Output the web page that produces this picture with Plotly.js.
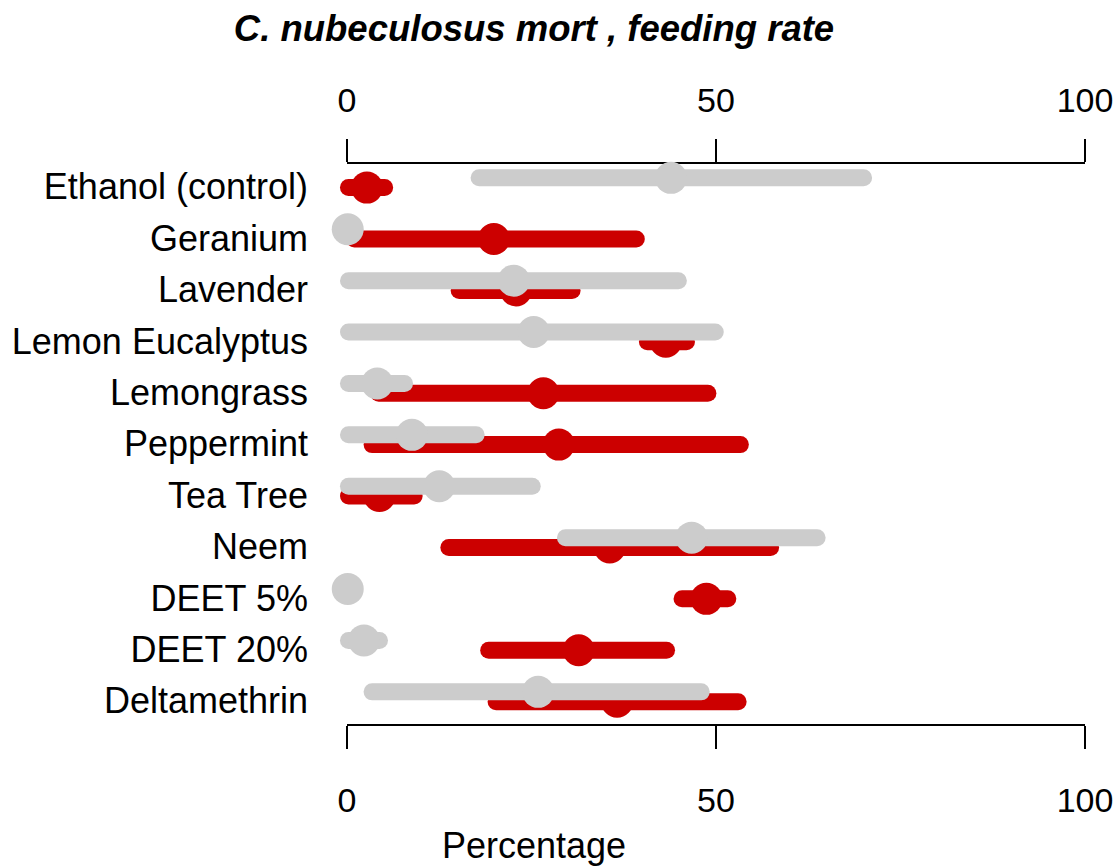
<!DOCTYPE html>
<html>
<head>
<meta charset="utf-8">
<script src="https://cdn.plot.ly/plotly-3.0.1.min.js"></script>
<style>
  html, body { margin: 0; padding: 0; background: #fff; }
  #chart { width: 1120px; height: 868px; }
  .scatterlayer .js-line { stroke-linecap: round !important; }
  .cartesianlayer [clip-path], .cartesianlayer g.plot, .scatterlayer, .scatterlayer * { clip-path: none !important; }
</style>
</head>
<body>
<div id="chart"></div>
<script>
const categories = ["Ethanol (control)", "Geranium", "Lavender", "Lemon Eucalyptus", "Lemongrass",
  "Peppermint", "Tea Tree", "Neem", "DEET 5%", "DEET 20%", "Deltamethrin"];

// Mortality (red): mean, lower, upper
const mortMean = [2.7, 19.9, 22.9, 43.2, 26.6, 28.7, 4.4, 35.6, 48.7, 31.4, 36.6];
const mortLow  = [0.2, 1.0, 15.2, 40.7, 4.3, 3.4, 0.2, 13.8, 45.4, 19.2, 20.2];
const mortHigh = [5.1, 39.2, 30.5, 46.0, 48.9, 53.3, 9.1, 57.4, 51.6, 43.3, 53.0];

// Feeding rate (grey): mean, lower, upper
const feedMean = [43.9, 0.1, 22.6, 25.3, 4.1, 8.8, 12.5, 46.7, 0.1, 2.3, 25.9];
const feedLow  = [17.9, 0.1, 0.2, 0.2, 0.2, 0.2, 0.2, 29.6, 0.1, 0.2, 3.4];
const feedHigh = [70.0, 0.1, 44.9, 49.9, 7.8, 17.5, 25.1, 63.7, 0.1, 4.4, 48.0];

const xTicks = [0, 50, 100];

const RED = "#CC0000", GREY = "#CCCCCC";
const offMort = 0.095, offFeed = -0.095;

function segs(lo, hi, off) {
  const x = [], y = [];
  lo.forEach((v, i) => { x.push(v, hi[i], null); y.push(i + off, i + off, null); });
  return {x, y};
}
const mSeg = segs(mortLow, mortHigh, offMort);
const fSeg = segs(feedLow, feedHigh, offFeed);
const idx = categories.map((c, i) => i);

const traces = [
  {type: "scatter", mode: "lines", x: mSeg.x, y: mSeg.y, line: {color: RED, width: 17},
   hoverinfo: "skip", showlegend: false, name: "mortality", cliponaxis: false},
  {type: "scatter", mode: "markers", x: mortMean, y: idx.map(i => i + offMort), text: categories,
   marker: {color: RED, size: 32, symbol: "circle"}, showlegend: false, name: "mortality", cliponaxis: false},
  {type: "scatter", mode: "lines", x: fSeg.x, y: fSeg.y, line: {color: GREY, width: 17},
   hoverinfo: "skip", showlegend: false, name: "feeding rate", cliponaxis: false},
  {type: "scatter", mode: "markers", x: feedMean, y: idx.map(i => i + offFeed), text: categories,
   marker: {color: GREY, size: 32, symbol: "circle"}, showlegend: false, name: "feeding rate", cliponaxis: false}
];

const FONT = "Liberation Sans, Arial, sans-serif";
const tickFont = {family: FONT, size: 34, color: "#000"};
const labelFont = {family: FONT, size: 36, color: "#000"};

const layout = {
  width: 1120, height: 868,
  margin: {l: 347, r: 35, t: 164, b: 144, pad: 0},
  paper_bgcolor: "#fff", plot_bgcolor: "#fff",
  showlegend: false,
  title: {text: "<b><i>C. nubeculosus mort , feeding rate</i></b>",
          font: {family: FONT, size: 36.5, color: "#000"},
          x: 534 / 1120, xref: "container", xanchor: "center",
          y: 1 - 28 / 868, yref: "container", yanchor: "middle"},
  xaxis: {range: [0, 100], tickvals: xTicks, ticktext: xTicks.map(String),
          showline: true, linecolor: "#000", linewidth: 2, ticks: "outside", ticklen: 23, tickwidth: 2,
          tickcolor: "#000", showgrid: false, zeroline: false, tickfont: tickFont,
          ticklabelstandoff: 22, side: "bottom", layer: "below traces", fixedrange: true},
  xaxis2: {range: [0, 100], tickvals: xTicks, ticktext: xTicks.map(String), overlaying: "x", side: "top",
          showline: true, linecolor: "#000", linewidth: 2, ticks: "outside", ticklen: 23, tickwidth: 2,
          tickcolor: "#000", showgrid: false, zeroline: false, tickfont: tickFont,
          ticklabelstandoff: 13, layer: "below traces", fixedrange: true, anchor: "y"},
  yaxis: {range: [10.53, -0.364], tickvals: idx, ticktext: categories, showline: false, ticks: "",
          showgrid: false, zeroline: false, tickfont: labelFont, ticklabelstandoff: 38,
          ticklabelshift: -4, fixedrange: true},
  annotations: [{text: "Percentage", xref: "paper", yref: "paper",
                 x: (534 - 347) / 738, y: -(845 - 724) / 560, xanchor: "center", yanchor: "middle",
                 showarrow: false, font: labelFont}]
};

// give xaxis2 a (hidden) reference so it is drawn
traces.push({type: "scatter", mode: "markers", x: [0], y: [0], xaxis: "x2", yaxis: "y",
             marker: {opacity: 0}, hoverinfo: "skip", showlegend: false});

Plotly.newPlot("chart", traces, layout, {displayModeBar: false, staticPlot: true});
</script>
</body>
</html>
